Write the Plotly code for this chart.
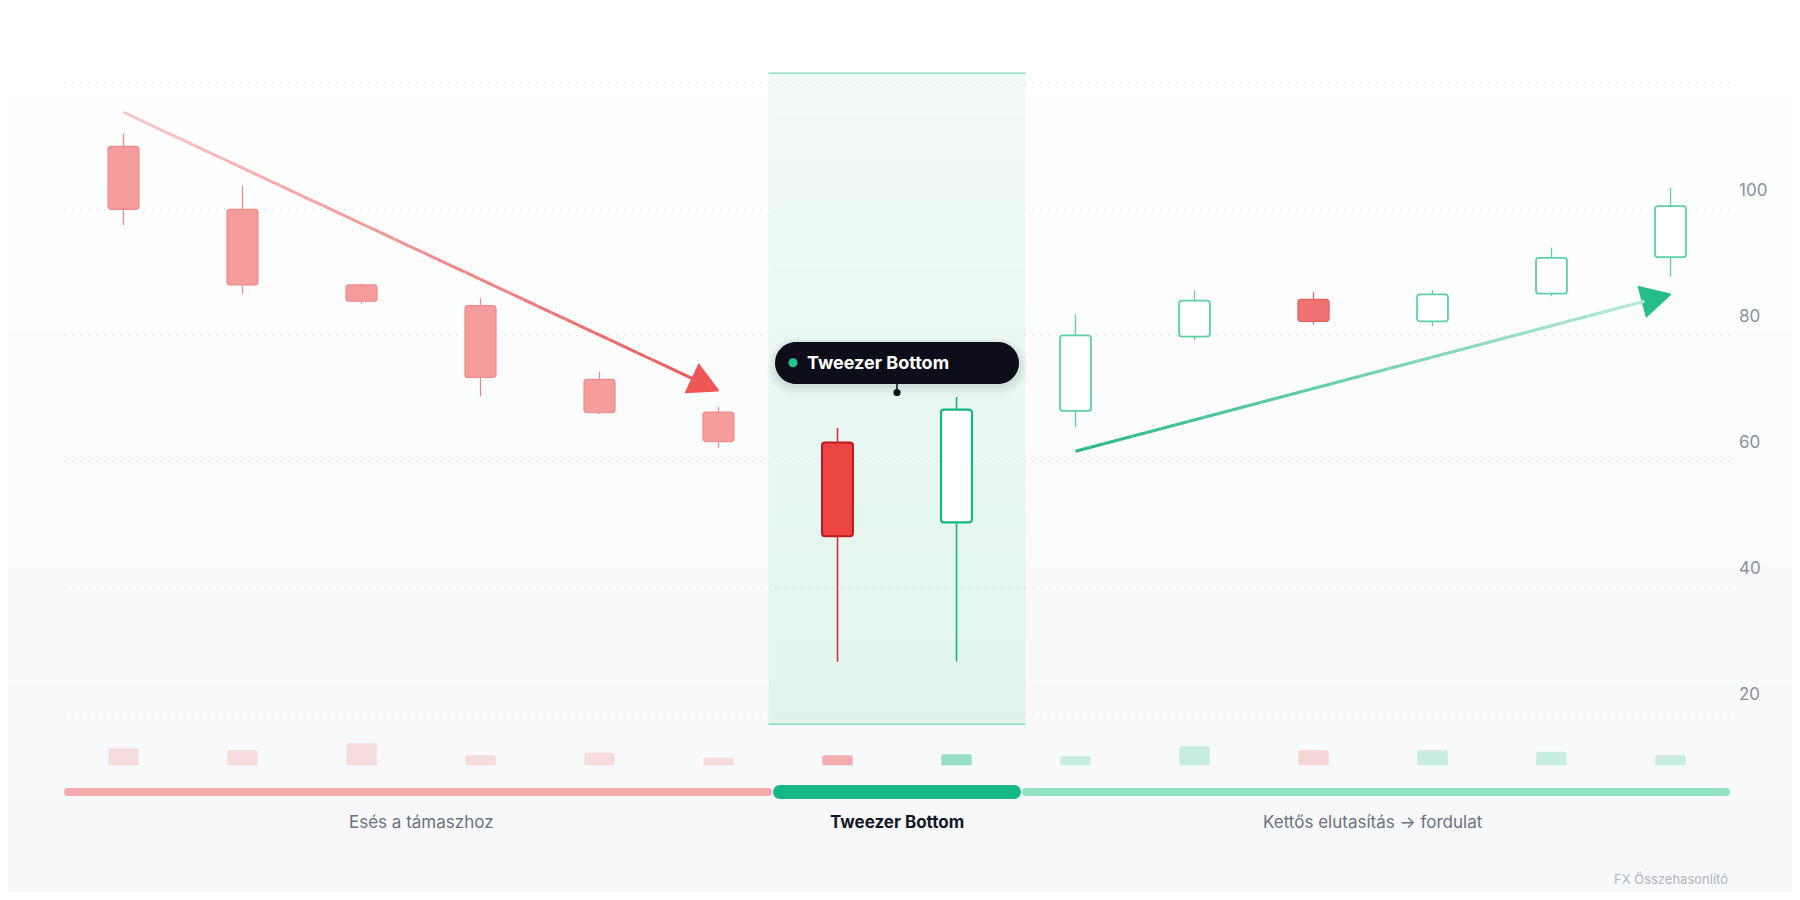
import plotly.graph_objects as go

# ---------------- data ----------------
CANDLE_IDX = list(range(14))
OPEN = [110.0, 100.0, 88.0, 84.7, 73.0, 67.8, 63.0, 50.3, 68.0, 79.8, 85.7, 82.2, 86.6, 92.4]
HIGH = [112.0, 103.8, 88.2, 85.9, 74.2, 68.6, 65.3, 70.2, 83.3, 87.1, 86.9, 87.2, 93.9, 103.4]
LOW = [97.5, 86.6, 85.0, 70.3, 67.5, 62.1, 28.2, 28.2, 65.4, 79.2, 81.7, 81.4, 86.2, 89.3]
CLOSE = [100.0, 88.0, 85.4, 73.3, 67.7, 63.1, 48.1, 68.2, 80.0, 85.5, 82.2, 86.5, 92.3, 100.5]
VOLUME = [17, 15, 22, 10, 12.5, 7.5, 10, 11, 9, 19, 15, 15, 13.5, 10]

PHASE_NAMES = ["Esés a támaszhoz", "Tweezer Bottom", "Kettős elutasítás → fordulat"]
PHASE_START = [0, 6, 8]
PHASE_END = [5, 7, 13]
FOCUS_PHASE = 1

Y_TICK_VALUES = [20, 40, 60, 80, 100, 120]
Y_TICK_LABELS = ["20", "40", "60", "80", "100", ""]

TREND_DOWN = [0.0, 115.4, 5.0, 71.2]   # x0, y0, x1, y1
TREND_UP = [8.0, 61.6, 13.0, 86.5]

CALLOUT_TEXT = "Tweezer Bottom"
CALLOUT_POINT = [6.5, 70.9]
FOOTER_TEXT = "FX Összehasonlító"

# ---------------- layout constants ----------------
OFF = 8                      # page body margin in front of the figure
W, H = 1784, 884
ML, MR, MT, MB = 64 - OFF, W - (1730 - OFF), 0, 0
X_RANGE = [-0.5, 13.5]
Y_RANGE = [-8.37, 131.95]
PX_X = (W - ML - MR) / (X_RANGE[1] - X_RANGE[0])
PX_Y = (H - MT - MB) / (Y_RANGE[1] - Y_RANGE[0])


def yv(px_abs):
    return Y_RANGE[1] - (px_abs - OFF - MT) / PX_Y


def ypaper(px_abs):
    return 1 - (px_abs - OFF) / H


VOL_BASE = 765.3 - OFF
Y2_RANGE = [-(H - VOL_BASE), VOL_BASE]
FONT = "Inter"

STYLES = {
    "fade_bear": dict(fill="#f59c9c", line="#ee8888", lw=1.2, wick="#ee8888", ww=1.2, vol="rgba(239,68,68,0.16)"),
    "fade_bull": dict(fill="#ffffff", line="#8fdcc0", lw=1.4, wick="#8fdcc0", ww=1.2, vol="rgba(16,185,129,0.16)"),
    "focus_bear": dict(fill="#ef4444", line="#b91c1c", lw=2.0, wick="#cf3434", ww=1.6, vol="rgba(239,68,68,0.42)"),
    "focus_bull": dict(fill="#ffffff", line="#10b981", lw=2.2, wick="#10b981", ww=1.6, vol="rgba(16,185,129,0.42)"),
    "bear": dict(fill="#f07272", line="#e86262", lw=1.4, wick="#e86262", ww=1.2, vol="rgba(239,68,68,0.2)"),
    "bull": dict(fill="#ffffff", line="#5fcfa6", lw=1.8, wick="#5fcfa6", ww=1.3, vol="rgba(16,185,129,0.2)"),
}


def phase_of(i):
    for p, (s, e) in enumerate(zip(PHASE_START, PHASE_END)):
        if s <= i <= e:
            return p
    return 0


def style_key(i):
    bull = CLOSE[i] >= OPEN[i]
    p = phase_of(i)
    if p == 0:
        return "fade_bull" if bull else "fade_bear"
    if p == FOCUS_PHASE:
        return "focus_bull" if bull else "focus_bear"
    return "bull" if bull else "bear"


fig = go.Figure()

# ---------------- background gradient (shapes below grid) ----------------
shapes = []
NB = 30
for k in range(NB):
    t = k / (NB - 1)
    c = tuple(round(a + (b - a) * t) for a, b in zip((255, 255, 255), (247, 248, 250)))
    shapes.append(dict(type="rect", xref="paper", yref="paper", layer="below",
                       x0=-ML / (W - ML - MR) - 0.01, x1=1 + MR / (W - ML - MR) + 0.01,
                       y0=1 - (k + 1) / NB - 0.001, y1=1 - k / NB + 0.001,
                       fillcolor="rgb(%d,%d,%d)" % c, line=dict(width=0)))

# highlighted zone around focus phase
zx0 = PHASE_START[FOCUS_PHASE] - 0.5 - 0.08
zx1 = PHASE_END[FOCUS_PHASE] + 0.5 + 0.08
ztop, zbot = yv(73.3), yv(724.3)
NZ = 30
for k in range(NZ):
    t = k / (NZ - 1)
    c = tuple(round(a + (b - a) * t) for a, b in zip((240, 250, 246), (226, 245, 237)))
    ya = ztop - (ztop - zbot) * k / NZ
    yb = ztop - (ztop - zbot) * (k + 1) / NZ
    shapes.append(dict(type="rect", xref="x", yref="y", layer="below",
                       x0=zx0, x1=zx1, y0=yb - 0.05, y1=ya + 0.05,
                       fillcolor="rgb(%d,%d,%d)" % c, line=dict(width=0)))
for yy in (ztop, zbot):
    shapes.append(dict(type="line", xref="x", yref="y", layer="below",
                       x0=zx0, x1=zx1, y0=yy, y1=yy, line=dict(color="#8fdbbf", width=1.6)))

# ---------------- volume bars ----------------
groups = {}
for i in CANDLE_IDX:
    groups.setdefault(style_key(i), []).append(i)
for key, idx in groups.items():
    fig.add_trace(go.Bar(x=[CANDLE_IDX[i] for i in idx], y=[VOLUME[i] for i in idx],
                         yaxis="y2", width=0.255,
                         marker=dict(color=STYLES[key]["vol"], line=dict(width=0), cornerradius=2),
                         showlegend=False, hoverinfo="skip"))

# ---------------- wicks ----------------
for key, idx in groups.items():
    xs, ys = [], []
    for i in idx:
        top, bot = max(OPEN[i], CLOSE[i]), min(OPEN[i], CLOSE[i])
        if HIGH[i] > top:
            xs += [CANDLE_IDX[i], CANDLE_IDX[i], None]
            ys += [top, HIGH[i], None]
        if LOW[i] < bot:
            xs += [CANDLE_IDX[i], CANDLE_IDX[i], None]
            ys += [LOW[i], bot, None]
    fig.add_trace(go.Scatter(x=xs, y=ys, mode="lines",
                             line=dict(color=STYLES[key]["wick"], width=STYLES[key]["ww"]),
                             showlegend=False, hoverinfo="skip"))

# ---------------- candle bodies ----------------
for key, idx in groups.items():
    st = STYLES[key]
    fig.add_trace(go.Bar(x=[CANDLE_IDX[i] for i in idx],
                         base=[min(OPEN[i], CLOSE[i]) for i in idx],
                         y=[abs(CLOSE[i] - OPEN[i]) for i in idx],
                         width=0.26,
                         marker=dict(color=st["fill"], line=dict(color=st["line"], width=st["lw"]),
                                     cornerradius=3),
                         showlegend=False, hoverinfo="skip"))

# ---------------- trend arrows ----------------


def arrow(trend, c_start, c_end, head_color, head_len=29, head_half=15.5, nseg=40, width=3):
    x0, y0, x1, y1 = trend
    dxp = (x1 - x0) * PX_X
    dyp = -(y1 - y0) * PX_Y
    L = (dxp ** 2 + dyp ** 2) ** 0.5
    ux, uy = dxp / L, dyp / L
    bx, by = dxp - ux * (head_len - 2), dyp - uy * (head_len - 2)
    for k in range(nseg):
        ta, tb = k / nseg, (k + 1) / nseg
        t = (k + 0.5) / nseg
        c = tuple(round(a + (b - a) * t) for a, b in zip(c_start, c_end))
        shapes.append(dict(type="line", xref="x", yref="y", layer="above",
                           x0=x0 + bx * ta / PX_X, y0=y0 - by * ta / PX_Y,
                           x1=x0 + bx * tb / PX_X, y1=y0 - by * tb / PX_Y,
                           line=dict(color="rgb(%d,%d,%d)" % c, width=width)))
    hx, hy = dxp - ux * head_len, dyp - uy * head_len
    nx, ny = -uy, ux
    pts = [(dxp, dyp), (hx + nx * head_half, hy + ny * head_half),
           (hx - nx * head_half, hy - ny * head_half), (dxp, dyp)]
    fig.add_trace(go.Scatter(x=[x0 + p[0] / PX_X for p in pts], y=[y0 - p[1] / PX_Y for p in pts],
                             mode="lines", fill="toself", fillcolor=head_color,
                             line=dict(color=head_color, width=1.5),
                             showlegend=False, hoverinfo="skip"))


arrow(TREND_DOWN, (247, 202, 202), (236, 90, 90), "#ef5757")
arrow(TREND_UP, (40, 184, 134), (182, 233, 213), "#26bd8a")

# ---------------- phase strip ----------------
STRIP_Y = yv(792)
for p, name in enumerate(PHASE_NAMES):
    focus = p == FOCUS_PHASE
    w = 14 if focus else 8
    left = PHASE_START[p] - 0.5
    right = PHASE_END[p] + 0.5
    if p > 0:
        left += (-5 if focus else 6) / PX_X
    if p < len(PHASE_NAMES) - 1:
        right += (5 if focus else -6) / PX_X
    left += (w / 2) / PX_X
    right -= (w / 2) / PX_X
    if focus:
        col = "#14b886"
    elif CLOSE[PHASE_END[p]] < OPEN[PHASE_START[p]]:
        col = "#f3aaaa"
    else:
        col = "#93dfc4"
    fig.add_trace(go.Scatter(x=[left, right], y=[STRIP_Y, STRIP_Y], mode="lines+markers",
                             line=dict(color=col, width=w),
                             marker=dict(color=col, size=w, line=dict(width=0)),
                             showlegend=False, hoverinfo="skip"))

# ---------------- callout ----------------


def rrect(x0, x1, y0, y1, r):
    k = 0.5523 * r
    return (f"M {x0 + r},{y0} L {x1 - r},{y0} C {x1 - r + k},{y0} {x1},{y0 + r - k} {x1},{y0 + r} "
            f"L {x1},{y1 - r} C {x1},{y1 - r + k} {x1 - r + k},{y1} {x1 - r},{y1} "
            f"L {x0 + r},{y1} C {x0 + r - k},{y1} {x0},{y1 - r + k} {x0},{y1 - r} "
            f"L {x0},{y0 + r} C {x0},{y0 + r - k} {x0 + r - k},{y0} {x0 + r},{y0} Z")


cx, cy = CALLOUT_POINT
pix = dict(xref="x", yref="y", xsizemode="pixel", ysizemode="pixel", xanchor=cx, yanchor=cy, layer="above")
for grow, dy, a in ((8, -4, 0.025), (5, -3, 0.03), (2, -2, 0.045)):
    shapes.append(dict(type="path", path=rrect(-122 - grow, 122 + grow, 8.6 - grow + dy, 50.6 + grow + dy, 21 + grow),
                       fillcolor=f"rgba(15,15,30,{a})", line=dict(width=0), **pix))
shapes.append(dict(type="line", x0=0, x1=0, y0=0, y1=9.5, line=dict(color="#0e0e1a", width=1.5), **pix))
shapes.append(dict(type="path", path=rrect(-122, 122, 8.6, 50.6, 21),
                   fillcolor="#0e0e1a", line=dict(width=0), **pix))
shapes.append(dict(type="circle", x0=-108.5, x1=-99.5, y0=25.4, y1=34.4,
                   fillcolor="#22c38e", line=dict(width=0), **pix))
shapes.append(dict(type="circle", x0=-3.6, x1=3.6, y0=-3.6, y1=3.6,
                   fillcolor="#0e0e1a", line=dict(width=0), **pix))

annotations = [dict(x=cx, y=cy, xref="x", yref="y", text=f"<b>{CALLOUT_TEXT}</b>", showarrow=False,
                    xanchor="left", yanchor="middle", xshift=-92, yshift=30,
                    font=dict(family=FONT, size=18, color="#ffffff"))]

for p, name in enumerate(PHASE_NAMES):
    focus = p == FOCUS_PHASE
    annotations.append(dict(x=(PHASE_START[p] + PHASE_END[p]) / 2, y=ypaper(821.7), xref="x", yref="paper",
                            text=f"<b>{name}</b>" if focus else name, showarrow=False,
                            xanchor="center", yanchor="middle",
                            font=dict(family=FONT, size=17, color="#111827" if focus else "#6b7280")))
annotations.append(dict(x=1.0, y=ypaper(879), xref="paper", yref="paper", text=FOOTER_TEXT,
                        showarrow=False, xanchor="right", yanchor="middle",
                        font=dict(family=FONT, size=13, color="#b2b6bd")))

fig.update_layout(
    width=W, height=H,
    margin=dict(l=ML, r=MR, t=MT, b=MB, pad=0),
    paper_bgcolor="#ffffff", plot_bgcolor="rgba(0,0,0,0)",
    barmode="overlay", showlegend=False,
    font=dict(family=FONT),
    shapes=shapes, annotations=annotations,
    xaxis=dict(range=X_RANGE, visible=False, fixedrange=True),
    yaxis=dict(range=Y_RANGE, side="right", tickvals=Y_TICK_VALUES, ticktext=Y_TICK_LABELS,
               showgrid=True, gridcolor="#e3e6eb", gridwidth=1, griddash="2px,6px",
               zeroline=False, showline=False, ticks="", ticklabelshift=-19, ticklabelstandoff=8,
               tickfont=dict(family=FONT, size=17, color="#8b9099"), fixedrange=True),
    yaxis2=dict(range=Y2_RANGE, overlaying="y", visible=False, fixedrange=True),
)

fig.write_html("out.html")
